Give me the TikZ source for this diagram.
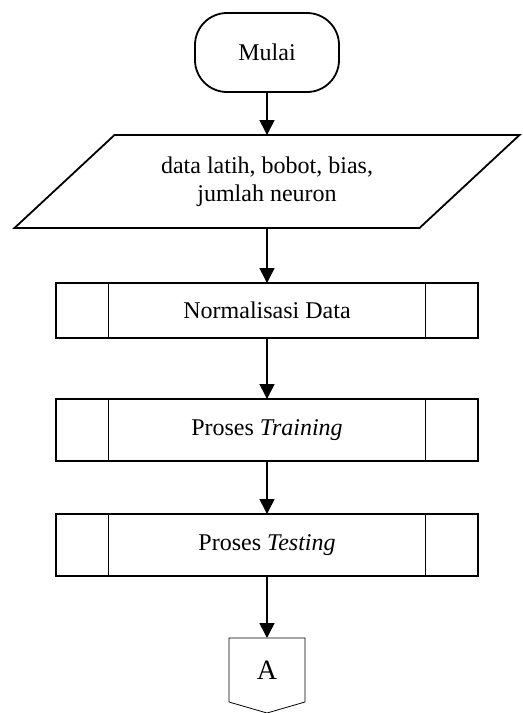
\documentclass[tikz,border=0pt]{standalone}
\usepackage{fontspec}
\setmainfont{Liberation Serif}
\usetikzlibrary{positioning,arrows.meta}

\begin{document}
\begin{tikzpicture}[font=\fontsize{12}{14}\selectfont, outer sep=0pt]
\tikzstyle{myterm} = [draw, line width=0.9pt, rounded corners=16pt, minimum width=72pt, minimum height=39.5pt] % start node style
\tikzstyle{myio} = [align=center, minimum width=202.5pt, minimum height=46.5pt] % input text, outline drawn below
\tikzstyle{myproc} = [draw, line width=0.9pt, minimum width=211pt, minimum height=31pt,
  path picture={\draw[line width=0.9pt]
    ([xshift=26.25pt]path picture bounding box.north west) -- ([xshift=26.25pt]path picture bounding box.south west)
    ([xshift=-26.25pt]path picture bounding box.north east) -- ([xshift=-26.25pt]path picture bounding box.south east);}] % predefined process
\tikzstyle{myconn} = [minimum width=38pt, minimum height=32pt, font=\fontsize{14}{16}\selectfont] % off-page connector
\tikzstyle{myarrow} = [line width=0.8pt, -{Triangle[width=7.5pt,length=7.5pt]}]

\useasboundingbox (0,0) rectangle (261.5pt,-356.5pt);

%
\node[myterm] (start) at (133.5pt,-26.25pt) {Mulai};
\node[myio, below=21.5pt of start] (input) {data latih, bobot, bias,\\ jumlah neuron};
\node[myproc, minimum height=27.5pt, below=27.5pt of input] (norm) {Normalisasi Data};
\node[myproc, below=30.5pt of norm] (train) {Proses \textit{Training}};
\node[myproc, below=26.5pt of train] (test) {Proses \textit{Testing}};
\node[myconn, below=31pt of test] (conA) {A};

% parallelogram round the input text
\draw[line width=0.9pt] ([xshift=25pt]input.north west) -- ([xshift=25pt]input.north east)
  -- ([xshift=-25pt]input.south east) -- ([xshift=-25pt]input.south west) -- cycle;
% pentagon of the connector
\draw[line width=0.4pt] (conA.north west) -- (conA.north east) -- (conA.south east)
  -- ([yshift=-5.5pt]conA.south) -- (conA.south west) -- cycle;

%
\draw[myarrow] (start) -- (input);
\draw[myarrow] (input) -- (norm);
\draw[myarrow] (norm) -- (train);
\draw[myarrow] (train) -- (test);
\draw[myarrow] (test) -- (conA);
\end{tikzpicture}
\end{document}
